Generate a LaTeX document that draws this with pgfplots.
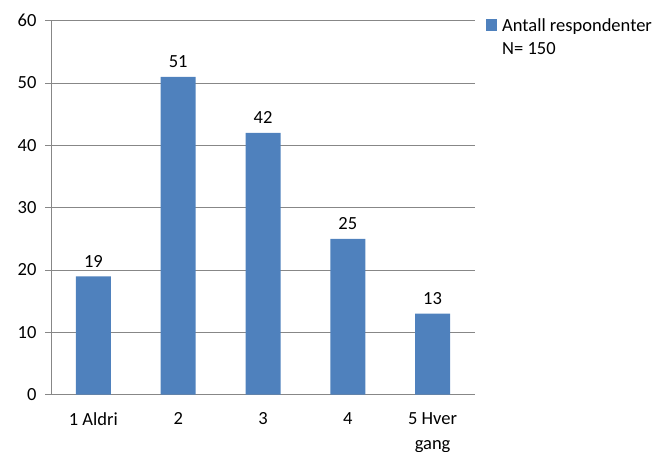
\documentclass[border=0pt]{standalone}
\usepackage{pgfplots}
\pgfplotsset{compat=1.18}
\usepackage{fontspec}
\setmainfont{Carlito}
\definecolor{barblue}{HTML}{4F81BD}
\definecolor{gridgray}{HTML}{878787}
\begin{document}
\begin{tikzpicture}
\begin{axis}[
  at={(51pt,57.3pt)}, anchor=south west,
  scale only axis, width=424pt, height=374pt,
  xmin=-0.5, xmax=4.5, ymin=0, ymax=60,
  axis x line=bottom, axis y line=left,
  axis line style={gridgray, -},
  ytick={0,10,...,60},
  ymajorgrids, grid style={gridgray, line width=0.6pt},
  xtick={0,1,2,3,4},
  xticklabels={1 Aldri, 2, 3, 4, 5 Hver\\gang},
  major x tick style={draw=none},
  extra x ticks={-0.5,0.5,1.5,2.5,3.5,4.5},
  extra x tick labels={},
  extra x tick style={major tick length=6pt, tick style={gridgray}, grid=none},
  major tick length=6pt,
  tick align=outside,
  tick style={gridgray, line width=0.6pt},
  /pgf/number format/assume math mode=true,
  tick label style={font=\fontsize{18.5}{25}\selectfont, black},
  xticklabel style={align=center, yshift=-8pt},
  yticklabel style={xshift=-5pt},
  ybar, bar width=35pt,
  nodes near coords,
  every node near coord/.append style={font=\fontsize{18.5}{23}\selectfont, black, yshift=5.5pt},
  legend style={at={(1,1)}, anchor=north west, xshift=8pt, yshift=10pt, draw=none,
    font=\fontsize{18.5}{23}\selectfont, legend cell align=left,
    /tikz/every odd column/.append style={column sep=3pt}},
  legend image code/.code={\fill[barblue] (0pt,-7pt) rectangle (11pt,4.5pt);},
]
\addplot[fill=barblue, draw=none] coordinates {(0,19) (1,51) (2,42) (3,25) (4,13)};
\addlegendentry{\begin{tabular}[t]{@{}l@{}}Antall respondenter\\[0pt]N= 150\end{tabular}}
\end{axis}
\pgfresetboundingbox
\path[use as bounding box] (0,0) rectangle (664pt,452pt);
\end{tikzpicture}
\end{document}
